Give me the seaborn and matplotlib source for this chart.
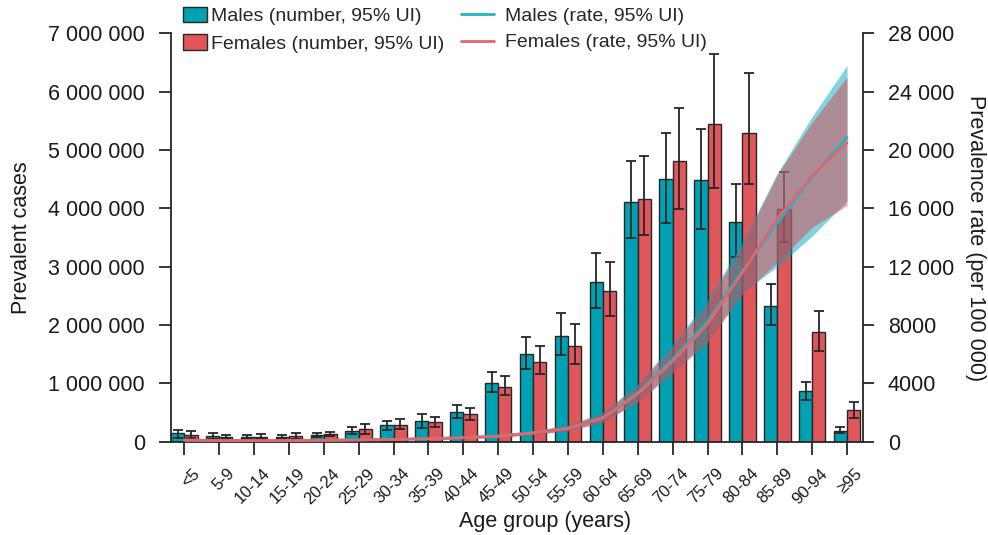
import numpy as np
import pandas as pd
import matplotlib
matplotlib.use("Agg")
import matplotlib.pyplot as plt
from matplotlib.patches import Patch
from matplotlib.lines import Line2D
from matplotlib.ticker import FuncFormatter, MultipleLocator
from matplotlib.transforms import ScaledTranslation
import seaborn as sns

# ---- data -------------------------------------------------------------
age_groups = ['<5', '5-9', '10-14', '15-19', '20-24', '25-29', '30-34', '35-39',
              '40-44', '45-49', '50-54', '55-59', '60-64', '65-69', '70-74',
              '75-79', '80-84', '85-89', '90-94', '≥95']

male_cases = [144e3, 98e3, 80e3, 75e3, 115e3, 190e3, 280e3, 355e3, 510e3, 1011e3,
              1503e3, 1817e3, 2743e3, 4109e3, 4508e3, 4486e3, 3766e3, 2326e3, 869e3, 189e3]
male_cases_lo = [69e3, 40e3, 40e3, 40e3, 75e3, 126e3, 200e3, 230e3, 400e3, 850e3,
                 1250e3, 1480e3, 2290e3, 3497e3, 3754e3, 3646e3, 3166e3, 1995e3, 715e3, 144e3]
male_cases_hi = [200e3, 154e3, 120e3, 120e3, 154e3, 252e3, 360e3, 475e3, 629e3, 1190e3,
                 1800e3, 2210e3, 3230e3, 4817e3, 5286e3, 5360e3, 4412e3, 2698e3, 1028e3, 252e3]

female_cases = [115e3, 75e3, 80e3, 98e3, 132e3, 218e3, 290e3, 338e3, 475e3, 943e3,
                1371e3, 1646e3, 2588e3, 4165e3, 4817e3, 5440e3, 5297e3, 3983e3, 1886e3, 543e3]
female_cases_lo = [58e3, 40e3, 46e3, 51e3, 92e3, 137e3, 212e3, 257e3, 372e3, 800e3,
                   1155e3, 1340e3, 2155e3, 3538e3, 3994e3, 4354e3, 4412e3, 3423e3, 1555e3, 411e3]
female_cases_hi = [183e3, 120e3, 137e3, 144e3, 171e3, 298e3, 384e3, 429e3, 583e3, 1126e3,
                   1646e3, 2010e3, 3075e3, 4892e3, 5725e3, 6645e3, 6320e3, 4623e3, 2240e3, 675e3]

male_rate = [110, 80, 70, 75, 95, 120, 155, 205, 275, 390,
             615, 925, 1650, 3350, 5650, 8250, 11700, 15000, 18150, 20850]
male_rate_lo = [85, 60, 55, 58, 75, 95, 120, 160, 215, 310,
                500, 760, 1350, 2750, 4800, 6900, 10200, 12000, 14100, 16500]
male_rate_hi = [140, 105, 90, 95, 120, 150, 195, 260, 345, 470,
                750, 1130, 2000, 3950, 6700, 9700, 13700, 18400, 22300, 25800]

female_rate = [105, 75, 70, 80, 100, 125, 160, 205, 270, 370,
               600, 910, 1620, 3280, 5500, 8050, 11600, 15300, 18250, 20500]
female_rate_lo = [80, 58, 55, 62, 78, 98, 125, 160, 212, 295,
                  490, 745, 1330, 2720, 4700, 6800, 10100, 12300, 14700, 16200]
female_rate_hi = [135, 98, 90, 100, 125, 155, 200, 260, 340, 455,
                  730, 1110, 1970, 3880, 6550, 9500, 13500, 18300, 21900, 25000]

# ---- style ------------------------------------------------------------
sns.set_theme(style="ticks")
plt.rcParams['font.family'] = ['Liberation Sans', 'DejaVu Sans']

teal = "#00A1B2"
red = "#E0575B"
teal_line = "#22B3C4"
red_line = "#E6646A"
teal_band = "#00AABE"
red_band = "#DC4650"
ink = "#262626"

fig = plt.figure(figsize=(9.88, 5.35), dpi=100)
ax = fig.add_axes([0.1728, 0.1744, 0.7004, 0.7633])

df = pd.DataFrame({
    "age": age_groups * 2,
    "sex": ["Males"] * len(age_groups) + ["Females"] * len(age_groups),
    "cases": male_cases + female_cases,
})

sns.barplot(data=df, x="age", y="cases", hue="sex", order=age_groups,
            hue_order=["Males", "Females"], palette=[teal, red], saturation=1,
            width=0.76, errorbar=None, edgecolor=ink, linewidth=1.0,
            legend=False, ax=ax, zorder=2)

# uncertainty intervals on the bars
for cont, val, lo, hi in zip(ax.containers,
                             [male_cases, female_cases],
                             [male_cases_lo, female_cases_lo],
                             [male_cases_hi, female_cases_hi]):
    xc = [p.get_x() + p.get_width() / 2 for p in cont.patches]
    v, l, h = np.array(val), np.array(lo), np.array(hi)
    ax.errorbar(xc, v, yerr=[v - l, h - v], fmt="none", ecolor=ink,
                elinewidth=1.3, capsize=3.4, capthick=1.3, zorder=3)

ax.set_xlim(-0.39, 19.45)
ax.set_ylim(0, 7e6)
ax.yaxis.set_major_locator(MultipleLocator(1e6))
ax.yaxis.set_major_formatter(FuncFormatter(lambda v, p: f"{int(v):,}".replace(",", " ")))
ax.set_xlabel("")
ax.set_ylabel("")

# rate curves on the secondary axis
ax2 = ax.twinx()
pos = np.arange(len(age_groups))
ax2.fill_between(pos, male_rate_lo, male_rate_hi, color=teal_band, alpha=0.5, lw=0)
ax2.fill_between(pos, female_rate_lo, female_rate_hi, color=red_band, alpha=0.5, lw=0)
sns.lineplot(x=pos, y=male_rate, color=teal_line, lw=2.0, ax=ax2)
sns.lineplot(x=pos, y=female_rate, color=red_line, lw=2.0, ax=ax2)
ax2.set_ylim(0, 28000)
ax2.set_xlim(-0.39, 19.45)
ax2.yaxis.set_major_locator(MultipleLocator(4000))
ax2.yaxis.set_major_formatter(FuncFormatter(
    lambda v, p: f"{int(v):,}".replace(",", " ") if v >= 10000 else f"{int(v)}"))

# spines and ticks
for s in ["top", "right"]:
    ax.spines[s].set_visible(False)
for s in ["top", "left", "bottom"]:
    ax2.spines[s].set_visible(False)
for sp in [ax.spines["left"], ax.spines["bottom"], ax2.spines["right"]]:
    sp.set_color(ink)
    sp.set_linewidth(1.3)

ax.tick_params(axis="y", length=8.6, width=1.3, color=ink, pad=10, labelsize=15.5, labelcolor="#1a1a1a")
ax.tick_params(axis="x", length=9.4, width=1.3, color=ink, pad=8, labelsize=12, labelcolor="#1a1a1a")
ax2.tick_params(axis="y", length=8.0, width=1.3, color=ink, pad=10, labelsize=15.5, labelcolor="#1a1a1a")
ax2.set_ylabel("")

ax.set_xticks(pos)
ax.set_xticklabels(age_groups, rotation=45, ha="right", va="top", rotation_mode="anchor")
shift = ScaledTranslation(8 / 100, 0, fig.dpi_scale_trans)
for lbl in ax.get_xticklabels():
    lbl.set_transform(lbl.get_transform() + shift)

# axis titles
fig.text(22 / 988, 1 - 238 / 535, "Prevalent cases", rotation=90, ha="center", va="center",
         fontsize=15.5, color="#1a1a1a")
fig.text(975 / 988, 1 - 238 / 535, "Prevalence rate (per 100 000)", rotation=270,
         ha="center", va="center", fontsize=15.5, color="#1a1a1a")
fig.text(545 / 988, 1 - 522 / 535, "Age group (years)", ha="center", va="center",
         fontsize=15.5, color="#1a1a1a")

# legends
bar_handles = [Patch(facecolor=teal, edgecolor=ink, lw=1.0),
               Patch(facecolor=red, edgecolor=ink, lw=1.0)]
fig.legend(bar_handles, ["Males (number, 95% UI)", "Females (number, 95% UI)"],
           loc="upper left", bbox_to_anchor=(183 / 988, 1 - 7 / 535), frameon=False,
           fontsize=14, handlelength=1.23, handleheight=0.82, handletextpad=0.2,
           labelspacing=0.47, borderpad=0, borderaxespad=0)
line_handles = [Line2D([], [], color=teal_line, lw=2.0),
                Line2D([], [], color=red_line, lw=2.0)]
fig.legend(line_handles, ["Males (rate, 95% UI)", "Females (rate, 95% UI)"],
           loc="upper left", bbox_to_anchor=(461 / 988, 1 - 7 / 535), frameon=False,
           fontsize=14, handlelength=1.7, handletextpad=0.55,
           labelspacing=0.47, borderpad=0, borderaxespad=0)

fig.savefig("out.png", dpi=100)
